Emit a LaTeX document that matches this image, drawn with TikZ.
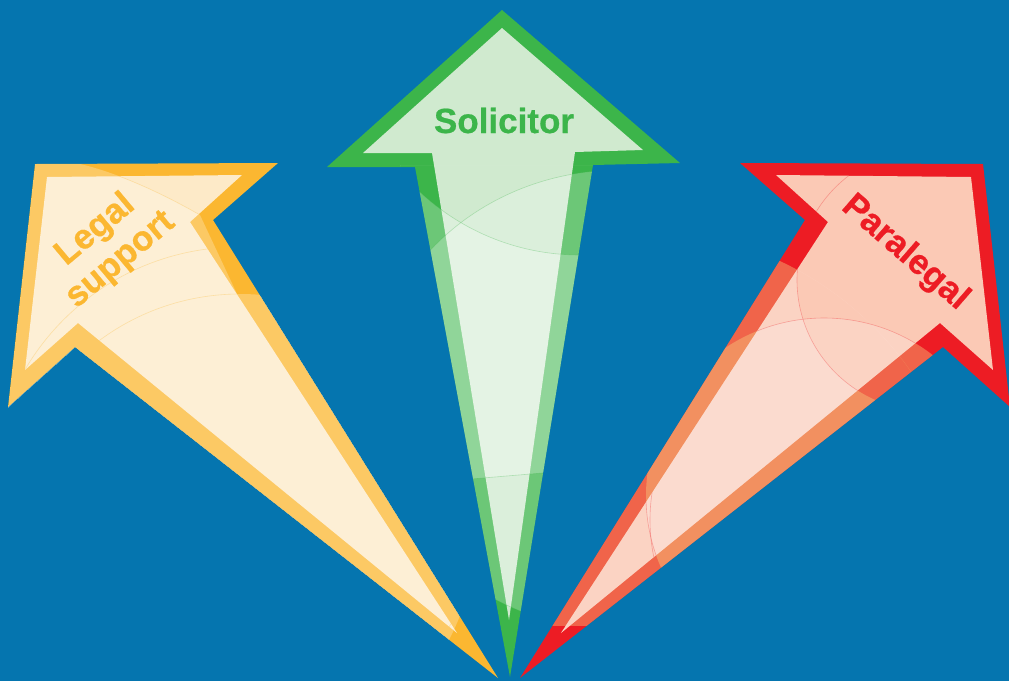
\documentclass[tikz,border=0pt]{standalone}
\usepackage{fontspec}
\setmainfont{Liberation Sans}
\newfontfamily\lblfont{Liberation Sans}[FakeBold=0.6, BoldFont={Liberation Sans Bold}]
\definecolor{bg}{HTML}{0575AF}
\definecolor{ylw}{HTML}{FBB731}
\definecolor{ylwin}{HTML}{FDEAC8}
\definecolor{grn}{HTML}{3CB54A}
\definecolor{grnin}{HTML}{D0EACF}
\definecolor{rd}{HTML}{ED1C24}
\definecolor{rdin}{HTML}{FBC9B5}
\definecolor{warm}{HTML}{F5D283}
\begin{document}
\begin{tikzpicture}[x=1pt,y=-1pt,
  lbl/.style={font=\lblfont\bfseries\fontsize{35}{39}\selectfont, inner sep=0pt, align=center},
  gloss/.style={white, opacity=0.25},
  rgloss/.style={warm, opacity=0.4},
  igloss/.style={white, opacity=0.2},
  arcline/.style={line width=0.6pt, opacity=0.3}]
\useasboundingbox (0,0) rectangle (1009,681);
\fill[bg] (0,0) rectangle (1009,681);
\clip (0,0) rectangle (1009,681);

% ---------- yellow arrow ----------
\fill[ylw] (35,164) -- (278,163) -- (213,220) -- (498,678) -- (75,347) -- (8,407) -- cycle;
\fill[ylwin] (47,177) -- (242,175) -- (190,222) -- (457,633) -- (78,323) -- (25,370) -- cycle;
\begin{scope}
  \clip (35,164) -- (278,163) -- (213,220) -- (498,678) -- (75,347) -- (8,407) -- cycle;
  \begin{scope}[transparency group, opacity=0.25]
    \fill[white] (240,530) circle[radius=236];
    \fill[white] (-20,420) -- (150,420) -- (238,296) -- (200,215)
      .. controls (160,192) and (115,172) .. (80,164) -- (60,140) -- (-20,140) -- cycle;
  \end{scope}
\end{scope}
\begin{scope}
  \clip (47,177) -- (242,175) -- (190,222) -- (457,633) -- (78,323) -- (25,370) -- cycle;
  \draw[arcline, ylw] (200,215) .. controls (160,192) and (115,172) .. (80,164);
  \draw[arcline, ylw] (239,495) circle[radius=248];
  \draw[arcline, ylw] (240,530) circle[radius=236];
\end{scope}

% ---------- green arrow ----------
\fill[grn] (502,10) -- (680,163) -- (593,165) -- (510,677) -- (415,167) -- (327,167) -- cycle;
\fill[grnin] (502,28) -- (643,150) -- (575,152) -- (509,620) -- (432,153) -- (363,153) -- cycle;
\begin{scope}
  \clip (502,10) -- (680,163) -- (593,165) -- (510,677) -- (415,167) -- (327,167) -- cycle;
  \fill[gloss] (620,400) ellipse[x radius=250, y radius=230];
  \begin{scope}
    \clip (400,165) -- (720,165) -- (720,458) -- (400,485) -- cycle;
    \fill[gloss, even odd rule] (400,165) rectangle (720,490) (580,20) circle[radius=235];
  \end{scope}
  \begin{scope}
    \clip (400,165) rectangle (720,700);
    \draw[arcline, grn] (620,400) ellipse[x radius=250, y radius=230];
    \draw[arcline, grn] (580,20) circle[radius=235];
  \end{scope}
  \draw[arcline, grn] (400,485) -- (720,458);
\end{scope}

% ---------- red arrow ----------
\fill[rd] (983,164) -- (740,163) -- (805,220) -- (520,678) -- (943,347) -- (1010,407) -- cycle;
\begin{scope}
  \clip (983,164) -- (740,163) -- (805,220) -- (520,678) -- (943,347) -- (1010,407) -- cycle;
  \begin{scope}
    \clip (640,560) circle[radius=330];
    \clip (0,0) rectangle (1009,625);
    \fill[rgloss, even odd rule] (640,560) circle[radius=330] (928,280) circle[radius=131];
  \end{scope}
  \fill[rgloss] (824,496) circle[radius=178];
\end{scope}
\fill[rdin] (971,177) -- (776,175) -- (828,222) -- (561,633) -- (940,323) -- (993,370) -- cycle;
\begin{scope}
  \clip (971,177) -- (776,175) -- (828,222) -- (561,633) -- (940,323) -- (993,370) -- cycle;
  \begin{scope}
    \clip (640,560) circle[radius=330];
    \fill[igloss, even odd rule] (640,560) circle[radius=330] (928,280) circle[radius=131];
  \end{scope}
  \fill[igloss] (824,496) circle[radius=178];
  \draw[arcline, rd] (928,280) circle[radius=131];
  \draw[arcline, rd] (824,496) circle[radius=178];
  \begin{scope}
    \clip (600,440) rectangle (700,640);
    \draw[arcline, rd] (830,520) circle[radius=180];
  \end{scope}
\end{scope}

% ---------- labels ----------
\node[lbl, text=grn, anchor=base] (sol) at (504,133) {Solicitor};
\node[lbl, text=ylw, rotate=40] (leg) at (108,245) {Legal\\support};
\node[lbl, text=rd, rotate=-41] (para) at (905,253) {Paralegal};
\end{tikzpicture}
\end{document}
